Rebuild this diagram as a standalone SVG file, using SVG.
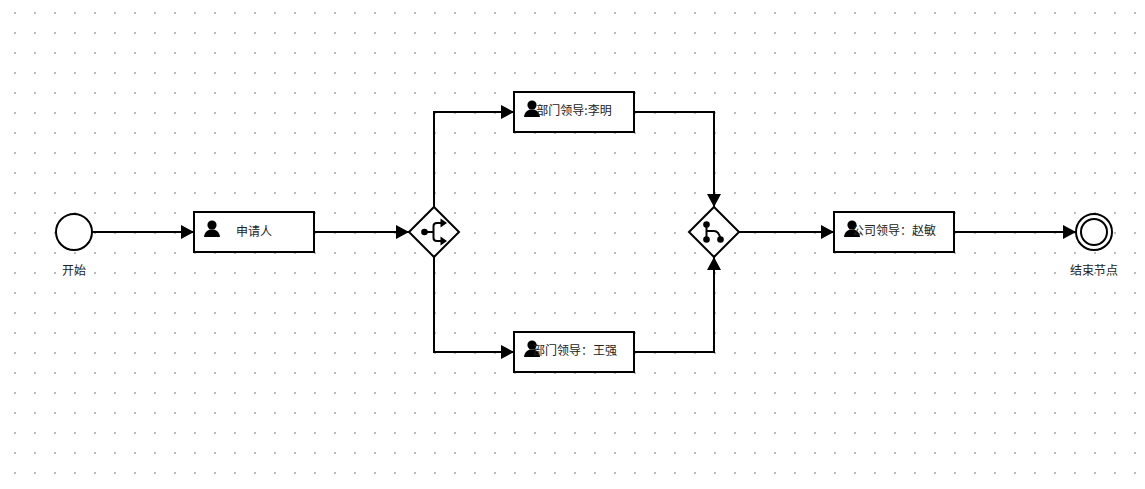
<svg xmlns="http://www.w3.org/2000/svg" width="1145" height="489" viewBox="0 0 1145 489">
<style>
.shape{fill:#fff;stroke:#000;stroke-width:2}
.edge{fill:none;stroke:#000;stroke-width:2}
.icon{fill:#000;stroke:none}
.glyph{fill:none;stroke:#000;stroke-width:2}
text{font-family:"Noto Sans CJK SC","Noto Sans",sans-serif;font-size:12px;fill:#222;text-anchor:middle}
</style>
<defs>
<pattern id="dots" x="14" y="12" width="20" height="20" patternUnits="userSpaceOnUse"><rect width="2" height="2" fill="#bbb"/></pattern>
<marker id="arrow" markerUnits="userSpaceOnUse" markerWidth="14" markerHeight="16" refX="13" refY="8" orient="auto"><path d="M0 1L13 8L0 15Z" fill="#000"/></marker>
<g id="person"><circle cx="0" cy="-7" r="4.600" class="icon"/><path class="icon" d="M-8 5C-7.500 0-4-2-2-2.500H2C4-2 7.500 0 8 5Z"/></g>
</defs>
<rect width="1145" height="489" fill="#fff"/>
<rect width="1145" height="489" fill="url(#dots)"/>
<g id="connectors">
<path class="edge" marker-end="url(#arrow)" d="M92 232H194"/>
<path class="edge" marker-end="url(#arrow)" d="M314 232H409"/>
<path class="edge" marker-end="url(#arrow)" d="M434 207V112H514"/>
<path class="edge" marker-end="url(#arrow)" d="M434 257V352H514"/>
<path class="edge" marker-end="url(#arrow)" d="M634 112H714V207"/>
<path class="edge" marker-end="url(#arrow)" d="M634 352H714V257"/>
<path class="edge" marker-end="url(#arrow)" d="M739 232H834"/>
<path class="edge" marker-end="url(#arrow)" d="M954 232H1076"/>
</g>
<g id="start"><circle class="shape" cx="74" cy="232" r="18"/><text x="74" y="275">开始</text></g>
<g id="task-applicant"><rect class="shape" x="194" y="212" width="120" height="40"/><use href="#person" x="212" y="232"/><text x="254" y="236">申请人</text></g>
<g id="gateway-split"><path class="shape" d="M434 207L459 232L434 257L409 232Z"/>
<circle class="icon" cx="424.500" cy="232" r="3.300"/><path class="glyph" d="M425 232H433.500M444 223H437Q433.500 223 433.500 226V238Q433.500 241 437 241H444"/><path class="icon" d="M440.500 218.500L447 223L440.500 227.500ZM440.500 236.500L447 241L440.500 245.500Z"/></g>
<g id="task-li"><rect class="shape" x="514" y="92" width="120" height="40"/><use href="#person" x="532" y="112"/><text x="574" y="115">部门领导:李明</text></g>
<g id="task-wang"><rect class="shape" x="514" y="332" width="120" height="40"/><use href="#person" x="532" y="352"/><text x="575" y="355">部门领导：王强</text></g>
<g id="gateway-merge"><path class="shape" d="M714 207L739 232L714 257L689 232Z"/>
<circle class="icon" cx="706.500" cy="224.500" r="3.300"/><circle class="icon" cx="706.500" cy="239.500" r="3.300"/><circle class="icon" cx="720.500" cy="239.500" r="3.300"/><path class="glyph" d="M706.500 224.500V239.500M706.500 231H714Q719 231 720.500 239"/></g>
<g id="task-zhao"><rect class="shape" x="834" y="212" width="120" height="40"/><use href="#person" x="852" y="232"/><text x="894" y="235">公司领导：赵敏</text></g>
<g id="end"><circle class="shape" cx="1094" cy="232" r="18"/><circle class="shape" cx="1094" cy="232" r="13"/><text x="1094" y="275">结束节点</text></g>
</svg>
